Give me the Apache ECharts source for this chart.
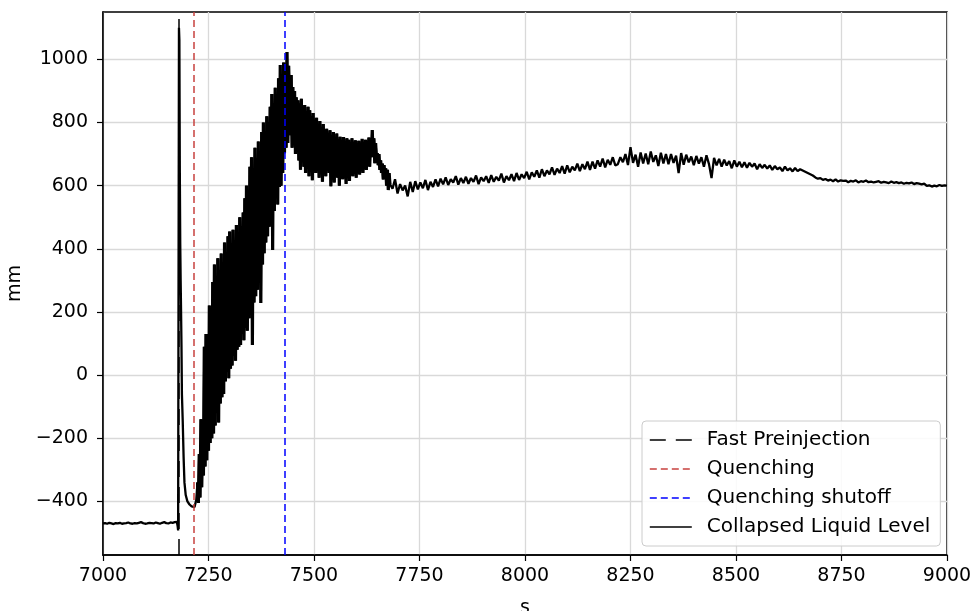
<!DOCTYPE html>
<html>
<head>
<meta charset="utf-8">
<script src="https://cdn.jsdelivr.net/npm/echarts@6/dist/echarts.min.js"></script>
<style>
  html, body { margin: 0; padding: 0; background: #fff; }
  #chart { width: 974px; height: 611px; }
</style>
</head>
<body>
<div id="chart"></div>
<script>
// event times (s) for the vertical markers
var eventNames = ["Fast Preinjection", "Quenching", "Quenching shutoff"];
var eventTimes = [7180, 7215, 7431];

// y ticks
var yTicks = [-400, -200, 0, 200, 400, 600, 800, 1000];

// steady level before the transient, t = 7000..7175 every 5 s
var baseStart = 7000, baseStep = 5;
var baseLevels = [-470, -469, -471, -468, -470, -472, -469, -470, -468, -471,
    -470, -469, -467, -470, -471, -469, -470, -468, -466, -469,
    -471, -470, -468, -469, -470, -467, -469, -471, -468, -466,
    -469, -470, -467, -468, -466, -465];

// preinjection spike and drop
var dropTimes = [7177, 7178, 7179, 7180, 7181, 7182, 7183, 7184, 7185, 7186, 7187,
    7189, 7191, 7193, 7196, 7200, 7205, 7210, 7214, 7217, 7219, 7221];
var dropLevels = [-480, -492, 300, 1100, 1060, 650, 420, 300, 200, 90, -60,
    -150, -260, -340, -380, -400, -410, -416, -420, -418, -412, -395];

// oscillating rise during quenching, t = 7224..7440 every 2 s
var riseStart = 7224, riseStep = 2;
var riseLevels = [
    -340, -405, -250, -388, -140, -355, -190, -318, 90, -290,
    130, -270, 60, -240, 220, -215, 150, -200, 295, -185,
    350, -160, 250, -120, 370, -150, 300, -90, 385, -70,
    330, -60, 420, -20, 360, 10, 440, -10, 455, 20,
    390, 30, 460, 60, 410, 45, 475, 80, 430, 90,
    500, 95, 440, 130, 515, 110, 560, 150, 600, 140,
    540, 180, 660, 200, 690, 95, 620, 230, 720, 250,
    680, 270, 740, 310, 700, 228, 770, 350, 800, 386,
    760, 420, 820, 440, 790, 470, 850, 500, 890, 396,
    850, 520, 910, 560, 880, 540, 940, 596, 982, 600,
    920, 640, 990, 703, 960, 720, 1023, 735, 980];

// decay after shutoff, t = 7442..7680 every 2 s
var plateauStart = 7442, plateauStep = 2;
var plateauLevels = [
    980, 760, 950, 720, 912, 740, 900, 700, 880, 720,
    870, 680, 860, 650, 875, 700, 840, 660, 855, 640,
    830, 690, 850, 630, 839, 670, 820, 617, 830, 660,
    800, 640, 815, 680, 790, 625, 805, 660, 785, 612,
    795, 650, 770, 630, 780, 670, 766, 640, 775, 598,
    760, 655, 770, 610, 750, 645, 765, 625, 745, 600,
    755, 650, 740, 620, 754, 660, 735, 605, 750, 640,
    745, 615, 738, 660, 750, 630, 735, 650, 744, 625,
    730, 660, 742, 635, 736, 655, 748, 640, 730, 665,
    745, 650, 738, 670, 752, 660, 745, 690, 776, 700,
    750, 671, 735, 690, 703, 665, 700, 650, 680, 640,
    670, 620, 665, 630, 655, 600, 650, 586, 640, 605];

// slow tail, t = 7686..9000 every 6 s
var tailStart = 7686, tailStep = 6;
var tailLevels = [
    590, 620, 575, 605, 585, 600, 566, 612, 580,
    614, 588, 610, 592, 618, 586, 612, 596, 620, 598,
    622, 604, 626, 602, 620, 610, 630, 603, 624, 608,
    628, 606, 624, 612, 632, 605, 626, 614, 630, 609,
    633, 612, 628, 616, 638, 610, 630, 617, 636, 614,
    640, 618, 636, 624, 644, 620, 642, 628, 648, 625,
    652, 630, 648, 636, 658, 634, 654, 640, 662, 638,
    664, 642, 660, 648, 670, 646, 668, 652, 676, 650,
    676, 654, 680, 660, 686, 658, 682, 666, 690, 664,
    668, 690, 674, 700, 665, 722, 672, 698, 660, 705,
    670, 702, 668, 708, 675, 696, 662, 704, 670, 700,
    668, 700, 672, 695, 640, 703, 666, 698, 674, 692,
    665, 694, 670, 690, 660, 696, 668, 624, 688, 664,
    685, 660, 682, 664, 678, 655, 680, 660, 676, 658,
    674, 657, 672, 660, 670, 652, 668, 656, 666, 654,
    664, 650, 662, 652, 658, 646, 660, 648, 655, 645,
    656, 646, 652, 648, 644, 640, 636, 632, 626, 622,
    624, 618, 621, 616, 619, 614, 620, 613, 617, 615,
    616, 611, 615, 613, 617, 610, 614, 612, 616, 611,
    613, 610, 612, 614, 609, 612, 610, 608, 613, 609,
    611, 608, 610, 606, 609, 607, 610, 605, 608, 606,
    604, 606, 599, 601, 597, 600, 598, 602, 599, 601, 600];

function stepped(start, step, vals) {
    return vals.map(function (v, i) { return [start + i * step, v]; });
}

var oscillationData = []
    .concat(stepped(riseStart, riseStep, riseLevels))
    .concat(stepped(plateauStart, plateauStep, plateauLevels));

var levelData = []
    .concat(stepped(baseStart, baseStep, baseLevels))
    .concat(dropTimes.map(function (t, i) { return [t, dropLevels[i]]; }))
    .concat(oscillationData)
    .concat(stepped(tailStart, tailStep, tailLevels));

var FONT = "DejaVu Sans";
var eventColors = ["#000000", "#c8413f", "#0000ff"];
var eventDash = [[16, 10], [7, 4], [7, 4]];

var series = eventNames.map(function (name, i) {
    return {
        name: name,
        type: "line",
        data: [],
        symbol: "none",
        color: eventColors[i],
        lineStyle: {color: eventColors[i], type: eventDash[i], width: 1.5},
        z: 1,
        markLine: {
            silent: true,
            symbol: "none",
            label: {show: false},
            lineStyle: {color: eventColors[i], type: eventDash[i], width: 1.5},
            data: [{xAxis: eventTimes[i]}]
        }
    };
});

series.push({
    name: "Collapsed Liquid Level",
    type: "line",
    data: levelData,
    symbol: "none",
    showSymbol: false,
    color: "#000",
    lineStyle: {color: "#000", width: 2.3},
    z: 3
});

// same trace again, heavier, so the dense oscillation reads as a solid band
series.push({
    name: "Collapsed Liquid Level",
    type: "line",
    data: oscillationData,
    symbol: "none",
    showSymbol: false,
    color: "#000",
    lineStyle: {color: "#000", width: 3.2},
    z: 3
});

var chart = echarts.init(document.getElementById("chart"), null, {renderer: "canvas"});

chart.setOption({
    animation: false,
    backgroundColor: "#fff",
    textStyle: {fontFamily: FONT},
    grid: {
        left: 103, right: 27, top: 12, bottom: 56,
        outerBoundsMode: "none", containLabel: false,
        show: true, borderColor: "#000", borderWidth: 1.5, backgroundColor: "transparent"
    },
    legend: {
        orient: "vertical",
        left: 642, top: 421,
        padding: [9, 10, 9, 7],
        itemWidth: 42, itemHeight: 14, itemGap: 9,
        itemStyle: {opacity: 0},
        lineStyle: {width: 1.6},
        backgroundColor: "rgba(255,255,255,0.85)",
        borderColor: "#cccccc", borderWidth: 1, borderRadius: 4,
        textStyle: {fontFamily: FONT, fontSize: 20, color: "#000", lineHeight: 20, padding: [0, 0, 0, 10]},
        data: ["Fast Preinjection", "Quenching", "Quenching shutoff", "Collapsed Liquid Level"]
    },
    xAxis: {
        type: "value",
        min: 7000, max: 9000, interval: 250,
        name: "s", nameLocation: "middle", nameGap: 44,
        nameTextStyle: {fontFamily: FONT, fontSize: 19, color: "#000"},
        axisLine: {show: true, onZero: false, lineStyle: {color: "#000", width: 1.5}},
        axisTick: {show: true, length: 6, lineStyle: {color: "#000", width: 1.2}},
        axisLabel: {
            fontFamily: FONT, fontSize: 19, color: "#000", margin: 12,
            formatter: function (v) { return String(v); }
        },
        splitLine: {show: true, lineStyle: {color: "#d9d9d9", width: 1.3}}
    },
    yAxis: {
        type: "value",
        min: -570, max: 1150,
        name: "mm", nameLocation: "middle", nameGap: 78,
        nameTextStyle: {fontFamily: FONT, fontSize: 19, color: "#000"},
        axisLine: {show: true, onZero: false, lineStyle: {color: "#000", width: 1.5}},
        axisTick: {show: true, length: 6, lineStyle: {color: "#000", width: 1.2}, customValues: yTicks},
        axisLabel: {
            fontFamily: FONT, fontSize: 19, color: "#000", margin: 15,
            customValues: yTicks,
            formatter: function (v) { return v < 0 ? "\u2212" + Math.abs(v) : String(v); }
        },
        splitLine: {show: true, lineStyle: {color: "#d9d9d9", width: 1.3}}
    },
    series: series
});
</script>
</body>
</html>
